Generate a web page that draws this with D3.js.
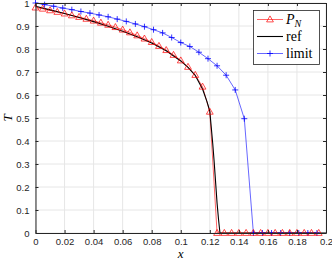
<!DOCTYPE html>
<html>
<head>
<meta charset="utf-8">
<script src="https://cdn.jsdelivr.net/npm/d3@7"></script>
<style>
  body { margin: 0; background: #fff; }
  svg { display: block; }
  .tick text { font-family: "Liberation Sans", Arial, sans-serif; font-size: 9.5px; fill: #262626; }
</style>
</head>
<body>
<svg width="332" height="260"></svg>
<script>
// ---------------------------------------------------------------------
// Data
// ---------------------------------------------------------------------
// P_N : computed profile, step 0.005 from 0 to 0.195
const pnX = d3.range(40).map(i => i * 0.005);
const pnT = [0.980, 0.975, 0.968, 0.961, 0.954, 0.946, 0.939, 0.931, 0.923, 0.914,
             0.905, 0.895, 0.884, 0.872, 0.859, 0.845, 0.830, 0.813, 0.795, 0.774,
             0.750, 0.722, 0.687, 0.636, 0.527, 0, 0, 0, 0, 0,
             0, 0, 0, 0, 0, 0, 0, 0, 0, 0];

// ref : reference curve (no markers)
const refX = [0, 0.01, 0.02, 0.03, 0.04, 0.05, 0.06, 0.07, 0.08, 0.09, 0.1, 0.105,
              0.11, 0.115, 0.118, 0.12, 0.121, 0.122, 0.123, 0.124, 0.125, 0.126, 0.127, 0.2];
const refT = [0.986, 0.970, 0.954, 0.937, 0.919, 0.899, 0.877, 0.853, 0.826, 0.792, 0.748, 0.720,
              0.685, 0.626, 0.572, 0.530, 0.460, 0.390, 0.310, 0.220, 0.130, 0.060, 0, 0];

// limit : step 0.00625 from 0 to 0.19375
const limX = d3.range(32).map(i => i * 0.00625);
const limT = [1.000, 0.993, 0.986, 0.978, 0.971, 0.963, 0.956, 0.948, 0.940, 0.930,
              0.920, 0.909, 0.897, 0.884, 0.870, 0.850, 0.828, 0.811, 0.786, 0.758,
              0.727, 0.686, 0.622, 0.497, 0, 0, 0, 0, 0, 0, 0, 0];

const xTicks = d3.range(0, 0.2001, 0.02);
const yTicks = d3.range(0, 1.0001, 0.1);

// ---------------------------------------------------------------------
// Layout
// ---------------------------------------------------------------------
const svg = d3.select("svg"),
      mLeft = 35.5, mRight = 326, mTop = 3, mBottom = 233,
      x = d3.scaleLinear().domain([0, 0.2]).range([mLeft, mRight]),
      y = d3.scaleLinear().domain([0, 1]).range([mBottom, mTop]),
      axisColor = "#262626";

// grid
svg.append("g").selectAll("line").data(xTicks).enter().append("line")
  .attr("x1", d => x(d)).attr("x2", d => x(d))
  .attr("y1", mTop).attr("y2", mBottom)
  .attr("stroke", "#e6e6e6").attr("stroke-width", 1);
svg.append("g").selectAll("line").data(yTicks).enter().append("line")
  .attr("y1", d => y(d)).attr("y2", d => y(d))
  .attr("x1", mLeft).attr("x2", mRight)
  .attr("stroke", "#e6e6e6").attr("stroke-width", 1);

// curves
const line = d3.line().x(d => x(d[0])).y(d => y(d[1]));
const pn  = pnX.map((v, i) => [v, pnT[i]]),
      ref = refX.map((v, i) => [v, refT[i]]),
      lim = limX.map((v, i) => [v, limT[i]]);

svg.append("path").datum(lim).attr("d", line)
  .attr("fill", "none").attr("stroke", "#0000ff").attr("stroke-width", 0.6);
svg.append("path").datum(pn).attr("d", line)
  .attr("fill", "none").attr("stroke", "#ff0000").attr("stroke-width", 0.6);
svg.append("path").datum(ref).attr("d", line)
  .attr("fill", "none").attr("stroke", "#000").attr("stroke-width", 1.1);

function triangle(g, cx, cy) {
  g.append("path")
    .attr("d", `M${cx},${cy - 3.6}L${cx + 3.4},${cy + 2.4}L${cx - 3.4},${cy + 2.4}Z`)
    .attr("fill", "none").attr("stroke", "#ff0000").attr("stroke-width", 0.7);
}
function plus(g, cx, cy) {
  g.append("path")
    .attr("d", `M${cx - 3},${cy}H${cx + 3}M${cx},${cy - 3}V${cy + 3}`)
    .attr("fill", "none").attr("stroke", "#0000ff").attr("stroke-width", 0.8);
}

const gMark = svg.append("g");
lim.forEach(d => plus(gMark, x(d[0]), y(d[1])));
pn.forEach(d => triangle(gMark, x(d[0]), y(d[1])));

// axes (box on, ticks inward)
const fmt = d => d3.format("~g")(+d.toFixed(2));
svg.append("g").attr("transform", `translate(0,${mBottom})`)
  .call(d3.axisBottom(x).tickValues(xTicks).tickFormat(fmt).tickSizeInner(-3).tickSizeOuter(0).tickPadding(5))
  .call(g => g.selectAll("line, path").attr("stroke", axisColor));
svg.append("g").attr("transform", `translate(${mLeft},0)`)
  .call(d3.axisLeft(y).tickValues(yTicks).tickFormat(fmt).tickSizeInner(-3).tickSizeOuter(0).tickPadding(6))
  .call(g => g.selectAll("line, path").attr("stroke", axisColor));
svg.append("g").attr("transform", `translate(0,${mTop})`)
  .call(d3.axisTop(x).tickValues(xTicks).tickFormat("").tickSizeInner(-3).tickSizeOuter(0))
  .call(g => g.selectAll("line, path").attr("stroke", axisColor));
svg.append("g").attr("transform", `translate(${mRight},0)`)
  .call(d3.axisRight(y).tickValues(yTicks).tickFormat("").tickSizeInner(-3).tickSizeOuter(0))
  .call(g => g.selectAll("line, path").attr("stroke", axisColor));

// axis labels
svg.append("text").attr("x", (mLeft + mRight) / 2).attr("y", 258)
  .attr("text-anchor", "middle")
  .style("font-family", "'Liberation Serif', serif").style("font-style", "italic").style("font-size", "13px")
  .text("x");
svg.append("text").attr("transform", `translate(12,${(mTop + mBottom) / 2}) rotate(-90)`)
  .attr("text-anchor", "middle")
  .style("font-family", "'Liberation Serif', serif").style("font-style", "italic").style("font-size", "13px")
  .text("T");

// legend
const leg = svg.append("g");
leg.append("rect").attr("x", 253.5).attr("y", 10.5).attr("width", 66).attr("height", 54)
  .attr("fill", "#fff").attr("stroke", axisColor).attr("stroke-width", 0.8);
const entries = [
  {name: "P", sub: "N", color: "#ff0000", w: 0.6, mark: triangle},
  {name: "ref", color: "#000", w: 1.1},
  {name: "limit", color: "#0000ff", w: 0.6, mark: plus}
];
entries.forEach((e, i) => {
  let cy = 19.5 + i * 17;
  leg.append("line").attr("x1", 257).attr("x2", 283).attr("y1", cy).attr("y2", cy)
    .attr("stroke", e.color).attr("stroke-width", e.w);
  if (e.mark) e.mark(leg, 270, cy);
  let t = leg.append("text").attr("x", 286).attr("y", cy + 4.5)
    .style("font-family", "'Liberation Serif', serif").style("font-size", "14px").attr("fill", "#000");
  if (e.sub) {
    t.append("tspan").style("font-style", "italic").text(e.name);
    t.append("tspan").style("font-style", "italic").style("font-size", "10px").attr("dy", 3).text(e.sub);
  } else {
    t.text(e.name);
  }
});
</script>
</body>
</html>
